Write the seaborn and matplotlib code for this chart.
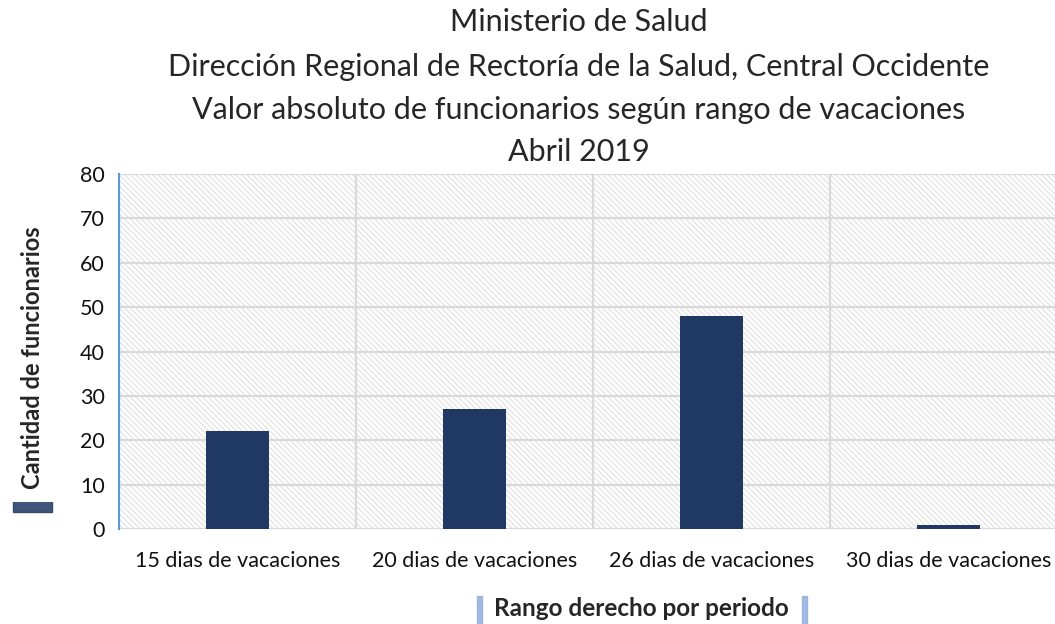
import matplotlib
matplotlib.use('Agg')
import matplotlib.pyplot as plt
from matplotlib.patches import Rectangle
import seaborn as sns
import pandas as pd

categorias = ['15 dias de vacaciones', '20 dias de vacaciones',
              '26 dias de vacaciones', '30 dias de vacaciones']
funcionarios = [22, 27, 48, 1]
titulo = ['Ministerio de Salud',
          'Dirección Regional de Rectoría de la Salud, Central Occidente',
          'Valor absoluto de funcionarios según rango de vacaciones',
          'Abril 2019']

sns.set_style('white')
plt.rcParams['font.family'] = ['Lato', 'DejaVu Sans']
plt.rcParams['hatch.color'] = '#e0e0e0'
plt.rcParams['hatch.linewidth'] = 0.8

df = pd.DataFrame({'rango': categorias, 'n': funcionarios})

fig = plt.figure(figsize=(10.55, 6.24), dpi=100)
ax = fig.add_axes([119 / 1055, 1 - 529 / 624, 4 * 237 / 1055, 355 / 624])

ax.patch.set_facecolor('white')
ax.patch.set_hatch('\\\\\\\\\\\\')
ax.patch.set_edgecolor('#e0e0e0')
ax.patch.set_linewidth(0)

sns.barplot(data=df, x='rango', y='n', color='#1f3864', width=0.27,
            saturation=1, linewidth=0, ax=ax, zorder=3)

ax.set_xlim(-0.5, 3.5)
ax.set_ylim(0, 80)
ax.set_yticks(range(0, 81, 10))
ax.set_xticks([-0.5, 0.5, 1.5, 2.5, 3.5], minor=True)
ax.grid(axis='y', color='#d9d9d9', linewidth=1.6, zorder=1)
ax.grid(axis='x', which='minor', color='#d9d9d9', linewidth=1.6, zorder=1)
ax.set_axisbelow(True)

for s in ['top', 'right', 'bottom']:
    ax.spines[s].set_visible(False)
ax.spines['left'].set_color('#5b9bd5')
ax.spines['left'].set_linewidth(1.5)
ax.tick_params(axis='y', direction='out', length=5, width=1.5,
               color='#5b9bd5', labelsize=15.5, pad=5, labelcolor='#111111')
ax.tick_params(axis='x', length=0, labelsize=15.5, pad=16, labelcolor='#111111')
ax.tick_params(axis='x', which='minor', length=0)
ax.set_xlabel('')
ax.set_ylabel('')

# titulo
for txt, yc in zip(titulo, [22, 67, 110, 152]):
    fig.text(579 / 1055, 1 - yc / 624, txt, ha='center', va='center',
             fontsize=22)

# etiqueta eje y con sombra
fig.patches.append(Rectangle((13 / 1055, 1 - 512 / 624), 39 / 1055, 22 / 624,
                             transform=fig.transFigure, color='#1f3864',
                             alpha=0.85, zorder=1))
fig.text(33 / 1055, 1 - 358 / 624, 'Cantidad de funcionarios', rotation=90,
         ha='center', va='center', fontsize=17, fontweight='bold', zorder=3,
         bbox=dict(facecolor='white', edgecolor='none', pad=9))

# etiqueta eje x con sombra lateral
for xx in [477, 802]:
    fig.patches.append(Rectangle((xx / 1055, 0), 5 / 1055, 28 / 624,
                                 transform=fig.transFigure, color='#8ea9db',
                                 alpha=0.8, zorder=1))
fig.text(641 / 1055, 1 - 609 / 624, 'Rango derecho por periodo', ha='center',
         va='center', fontsize=17.5, fontweight='bold', zorder=3,
         bbox=dict(facecolor='white', edgecolor='none', pad=3))

fig.savefig('out.png', dpi=100)
